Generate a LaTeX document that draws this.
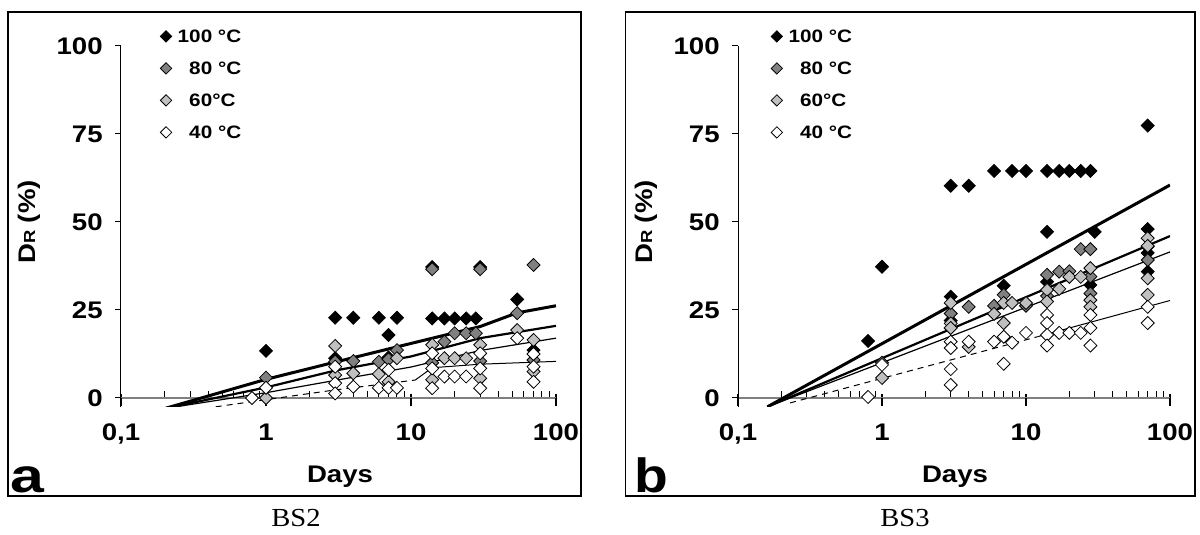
\documentclass[border=0pt]{standalone}
\usepackage{pgfplots}
\pgfplotsset{compat=1.18}
\usepackage{fontspec}
\setmainfont{Liberation Sans}[FakeStretch=1.15]
\newfontfamily\capfont{Liberation Serif}[FakeStretch=1.1]
\definecolor{g80}{RGB}{128,128,128}
\definecolor{g60}{RGB}{192,192,192}
\pgfplotsset{
 legend image code/.code={\draw[#1, mark size=2.0pt] plot coordinates {(0pt,0pt)};},
 m100/.style={only marks, mark=square*, mark size=2.3pt, mark options={rotate=45, draw=black, line width=0.4pt, fill=black}},
 m80/.style={only marks, mark=square*, mark size=2.3pt, mark options={rotate=45, draw=black, line width=0.4pt, fill=g80}},
 m60/.style={only marks, mark=square*, mark size=2.3pt, mark options={rotate=45, draw=black, line width=0.4pt, fill=g60}},
 m40/.style={only marks, mark=square*, mark size=2.3pt, mark options={rotate=45, draw=black, line width=0.4pt, fill=white}},
}
\newcommand\panelopts{
  scale only axis, height=180.4pt,
  xmode=log, xmin=0.1, xmax=100, ymin=-2.5, ymax=100,
  axis x line=middle, axis y line=left,
  x axis line style={-, draw=gray, line width=0.9pt},
  y axis line style={-, draw=black, line width=0.5pt},
  hide obscured x ticks=false, hide obscured y ticks=false,
  xtick={0.1,1,10,100}, xticklabels={{0,1},1,10,100},
  minor xtick={0.2,0.3,0.4,0.5,0.6,0.7,0.8,0.9,2,3,4,5,6,7,8,9,20,30,40,50,60,70,80,90},
  xtick align=inside, major tick length=1.8pt, minor tick length=3.3pt,
  major x tick style={black, line width=0.6pt},
  minor x tick style={black, line width=0.5pt},
  extra x ticks={0.1,1,10,100}, extra x tick labels={},
  extra x tick style={xtick align=outside, major tick length=4pt},
  ytick=\empty, ytick align=outside,
  extra y ticks={0,25,50,75,100}, extra y tick labels={0,25,50,75,100},
  extra y tick style={major tick length=3pt},
  major y tick style={black, line width=0.5pt},
  ticklabel style={font=\fontsize{12}{14}\selectfont\bfseries},
  xticklabel style={anchor=base, yshift=-21.5pt},
  yticklabel style={anchor=east, inner sep=0pt, xshift=-6pt},
  legend style={anchor=north west, draw=none, fill=none,
    font=\fontsize{9}{10}\selectfont\bfseries, row sep=7.5pt, inner sep=0pt, column sep=2pt,
    nodes={inner sep=1pt, text height=6.5pt, text depth=0pt}},
  legend cell align=left}
\newcommand\ylab{D{\fontsize{8}{8}\selectfont R} (\%)}
\begin{document}
\begin{tikzpicture}
\path[use as bounding box] (0,0) rectangle (600pt,267.5pt);
\draw[line width=0.7pt] (4pt,19.5pt) rectangle (290.5pt,261.5pt);
\draw[line width=0.7pt] (312.8pt,19.5pt) rectangle (597.5pt,261.5pt);
\node[font=\capfont\fontsize{13}{15}\selectfont] at (148pt,8.5pt) {BS2};
\node[font=\capfont\fontsize{13}{15}\selectfont] at (452.5pt,8.5pt) {BS3};
\node[font=\fontsize{24}{24}\selectfont\bfseries, anchor=base west, inner sep=0pt, xscale=1.1] at (5pt,21pt) {a};
\node[font=\fontsize{24}{24}\selectfont\bfseries, anchor=base west, inner sep=0pt] at (317pt,21pt) {b};
\node[font=\fontsize{12}{14}\selectfont\bfseries] at (170pt,29pt) {Days};
\node[font=\fontsize{12}{14}\selectfont\bfseries] at (477.5pt,29pt) {Days};
\node[font=\fontsize{12}{14}\selectfont\bfseries, rotate=90] at (14.5pt,156.5pt) {\ylab};
\node[font=\fontsize{12}{14}\selectfont\bfseries, rotate=90] at (323pt,156.5pt) {\ylab};

% ---------------- panel a (BS2)
\expandafter\begin\expandafter{\expandafter a\expandafter x\expandafter i\expandafter s\expandafter}\expandafter[\panelopts, width=217.5pt, at={(60.5pt,64.1pt)}, anchor=south west,
  legend style={at={(axis description cs:0.0897,1.0513)}}]
\addplot[forget plot, black, line width=1.5pt] coordinates {(0.2,-3) (1,5.3) (3,10.2) (10,15.5) (30,20.3) (54,24.2) (100,26.2)};
\addplot[forget plot, black, line width=1.1pt] coordinates {(0.2,-3) (1,3) (3,7.8) (10,11.8) (30,17) (100,20.5)};
\addplot[forget plot, black, line width=0.6pt] coordinates {(0.2,-3) (1,1.5) (3,5) (10,8.8) (30,13.5) (100,17)};
\addplot[forget plot, black, line width=0.5pt, dash pattern=on 3pt off 2.5pt] coordinates {(0.45,-2.5) (3,2.3) (10.7,5.1)};
\addplot[forget plot, black, line width=0.5pt] coordinates {(10.7,5.1) (14,8.6) (30,9.6) (100,10.4)};
\addplot[m100] coordinates {(1,13.4) (3,11.3) (3,22.8) (4,22.8) (6,22.8) (7,11.5) (7,17.9) (8,22.8) (14,37.2) (14,22.6) (17,22.6) (20,22.6) (24,22.6) (28,22.6) (30,37.2) (54,28) (70,13.6)};
\addlegendentry{100 °C}
\addplot[m80] coordinates {(1,5.8) (3,10.3) (4,10.5) (6,10.3) (7,11) (8,13.6) (14,36.6) (14,10) (17,16) (20,18.4) (24,18.4) (28,18.4) (30,36.6) (30,10.5) (54,24.1) (70,37.8) (70,10.8)};
\addlegendentry{\hphantom{1}80 °C}
\addplot[m60] coordinates {(1,0) (3,14.8) (3,6.5) (4,7) (6,6.8) (7,4.6) (8,11.3) (14,15.1) (14,5.2) (17,11.3) (20,11.3) (24,11.3) (30,15.1) (30,5.6) (54,19.3) (70,16.5) (70,7.5)};
\addlegendentry{\hphantom{1}60°C}
\addplot[m40] coordinates {(0.8,0) (1,2.9) (3,8.9) (3,4.2) (3,1.3) (4,3.2) (6,2.9) (7,8) (7,2.9) (8,2.9) (14,12.7) (14,8.4) (14,2.8) (17,6.1) (20,6.1) (24,6.1) (30,12.7) (30,8.4) (30,2.8) (54,17) (70,12.5) (70,8.9) (70,4.6)};
\addlegendentry{\hphantom{1}40 °C}
\end{axis}

% ---------------- panel b (BS3)
\expandafter\begin\expandafter{\expandafter a\expandafter x\expandafter i\expandafter s\expandafter}\expandafter[\panelopts, width=216pt, at={(369pt,64.1pt)}, anchor=south west,
  legend style={at={(axis description cs:0.0759,1.0513)}}]
\addplot[forget plot, black, line width=1.5pt] coordinates {(0.16,-2.5) (100,60.5)};
\addplot[forget plot, black, line width=1.1pt] coordinates {(0.16,-2.5) (100,46)};
\addplot[forget plot, black, line width=0.6pt] coordinates {(0.16,-2.5) (100,41.5)};
\addplot[forget plot, black, line width=0.5pt, dash pattern=on 3pt off 2.5pt] coordinates {(0.23,-1.4) (12,17.4)};
\addplot[forget plot, black, line width=0.5pt] coordinates {(12,17.4) (100,27.7)};
\addplot[m100] coordinates {(0.8,16.2) (1,37.3) (3,60.3) (4,60.3) (6,64.5) (8,64.5) (10,64.5) (14,64.5) (17,64.5) (20,64.5) (24,64.5) (28,64.5) (70,77.4) (3,28.8) (3,22) (7,31.9) (14,47.2) (14,33) (30,47.2) (28,32.1) (70,48) (70,41.2) (70,35.9)};
\addlegendentry{100 °C}
\addplot[m80] coordinates {(1,10) (3,24) (3,19.9) (4,25.9) (6,26.2) (7,29.3) (10,26.2) (14,35) (14,29) (17,35.9) (20,36) (24,42.3) (28,42.3) (28,34.5) (28,29.7) (70,39.2) (70,43)};
\addlegendentry{\hphantom{1}80 °C}
\addplot[m60] coordinates {(1,5.7) (3,27) (3,21.2) (3,19.9) (4,14.5) (6,23.9) (7,27) (7,21.3) (8,27) (10,27) (14,30.7) (14,27.4) (17,31) (20,34.4) (24,34.4) (28,36.9) (28,27.8) (28,25.9) (70,45.4) (70,43.2) (70,34) (70,29.3)};
\addlegendentry{\hphantom{1}60°C}
\addplot[m40] coordinates {(0.8,0.3) (1,9.4) (3,16) (3,14.2) (3,8.2) (3,3.7) (4,16) (6,16) (7,17.4) (7,9.7) (8,15.7) (10,18.5) (14,23.6) (14,21.3) (14,17.9) (14,14.9) (17,18.5) (20,18.5) (24,18.5) (28,23.6) (28,19.9) (28,14.9) (70,25.9) (70,21.3)};
\addlegendentry{\hphantom{1}40 °C}
\end{axis}
\end{tikzpicture}
\end{document}
